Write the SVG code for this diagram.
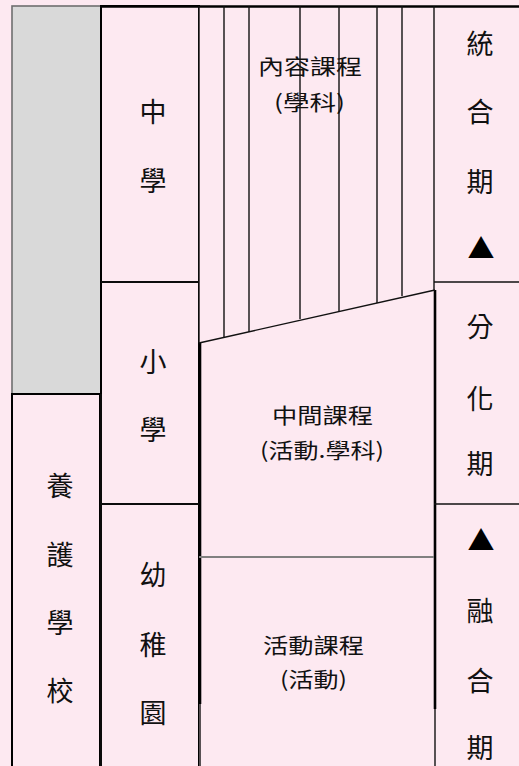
<svg xmlns="http://www.w3.org/2000/svg" width="519" height="766" viewBox="0 0 519 766">
<style>
.bg{fill:#fde9f1}
.box{fill:#fde9f1;stroke:#000;stroke-width:2}
.v{font-family:"Noto Sans CJK TC","Noto Sans CJK SC",sans-serif;font-size:27px;fill:#111;text-anchor:middle;dominant-baseline:central}
.h{font-family:"Noto Sans CJK TC","Noto Sans CJK SC",sans-serif;font-size:21px;fill:#111;dominant-baseline:central}
.thin{stroke:#111;stroke-width:1.4;fill:none}
.thick{stroke:#000;stroke-width:2.6;fill:none}
.tri{fill:#000}
</style>
<rect class="bg" x="0" y="0" width="519" height="766"/>
<g id="gray-block"><rect x="12" y="6" width="89" height="388" fill="#d9d9d9" stroke="#6e6e6e" stroke-width="1.6"/></g>
<g id="school-special"><rect class="box" x="12" y="394" width="88" height="380"/>
<text class="v" x="60" y="484">養</text><text class="v" x="60" y="553">護</text><text class="v" x="60" y="621">學</text><text class="v" x="60" y="689">校</text></g>
<g id="middle-school"><rect class="box" x="101" y="6" width="98" height="276" stroke="none"/>
<text class="v" x="153" y="110">中</text><text class="v" x="153" y="179">學</text></g>
<g id="primary-school"><rect class="box" x="101" y="282" width="98" height="222" stroke="none"/>
<text class="v" x="153" y="360">小</text><text class="v" x="153" y="428">學</text></g>
<g id="kindergarten"><rect class="box" x="101" y="504" width="98" height="270" stroke="none"/>
<text class="v" x="153" y="573">幼</text><text class="v" x="153" y="643">稚</text><text class="v" x="153" y="711">園</text></g>
<g id="content-curriculum"><polygon points="199,6 434,6 434,290 199,343" fill="#fde9f1"/>
<text class="h" x="258" y="65" textLength="104" lengthAdjust="spacingAndGlyphs">內容課程</text>
<text class="h" x="274" y="101" textLength="71" lengthAdjust="spacingAndGlyphs">(學科)</text></g>
<g id="intermediate-curriculum"><polygon points="199,343 434,290 434,557 199,557" fill="#fde9f1"/>
<text class="h" x="272" y="414" textLength="101" lengthAdjust="spacingAndGlyphs">中間課程</text>
<text class="h" x="260" y="449" textLength="124" lengthAdjust="spacingAndGlyphs">(活動.學科)</text></g>
<g id="activity-curriculum"><rect x="199" y="557" width="235" height="209" fill="#fde9f1"/>
<text class="h" x="263" y="644" textLength="101" lengthAdjust="spacingAndGlyphs">活動課程</text>
<text class="h" x="280" y="678" textLength="67" lengthAdjust="spacingAndGlyphs">(活動)</text></g>
<g id="integration-period">
<text class="v" x="480" y="42">統</text><text class="v" x="480" y="110">合</text><text class="v" x="480" y="180">期</text>
<text class="v tri" x="481" y="247" font-size="32">▲</text></g>
<g id="differentiation-period">
<text class="v" x="480" y="325">分</text><text class="v" x="480" y="397">化</text><text class="v" x="480" y="462">期</text></g>
<g id="fusion-period">
<text class="v tri" x="481" y="539" font-size="32">▲</text>
<text class="v" x="480" y="609">融</text><text class="v" x="480" y="679">合</text><text class="v" x="480" y="746">期</text></g>
<g id="connectors">
<line class="thick" x1="101" y1="6.5" x2="519" y2="6.5" stroke-width="2"/>
<line class="thin" x1="101" y1="282" x2="199" y2="282" stroke-width="2"/>
<line class="thin" x1="101" y1="504" x2="199" y2="504" stroke-width="1.6"/>
<line class="thin" x1="101" y1="394" x2="101" y2="766" stroke="#000" stroke-width="1.8"/>
<line class="thin" x1="199" y1="6" x2="199" y2="343" stroke-width="1.6"/>
<line class="thick" x1="200" y1="343" x2="200" y2="704"/>
<line class="thin" x1="200" y1="704" x2="200" y2="766"/>
<line class="thin" x1="224" y1="6" x2="224" y2="337"/>
<line class="thin" x1="249" y1="6" x2="249" y2="332"/>
<line class="thin" x1="300" y1="6" x2="300" y2="319"/>
<line class="thin" x1="339" y1="6" x2="339" y2="311"/>
<line class="thin" x1="377" y1="6" x2="377" y2="303"/>
<line class="thin" x1="402" y1="6" x2="402" y2="296"/>
<line class="thin" x1="434" y1="6" x2="434" y2="290"/>
<line class="thick" x1="435" y1="290" x2="435" y2="709"/>
<line class="thin" x1="435" y1="709" x2="435" y2="766"/>
<line class="thin" x1="199" y1="343" x2="435" y2="290" stroke-width="1.6"/>
<line x1="199" y1="557" x2="434" y2="557" stroke="#808080" stroke-width="2.2"/>
<line class="thin" x1="434" y1="282" x2="519" y2="282" stroke-width="1.8"/>
<line class="thin" x1="434" y1="504" x2="519" y2="504" stroke-width="1.6"/>
</g>
</svg>
